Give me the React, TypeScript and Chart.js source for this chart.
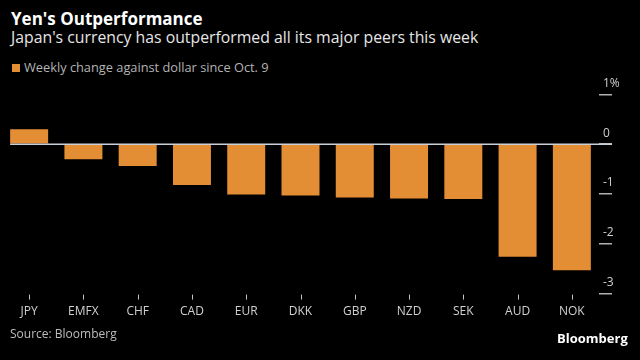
import React, { useEffect, useRef } from "react";
import { Chart, registerables } from "chart.js";

Chart.register(...registerables);

const categories = ["JPY", "EMFX", "CHF", "CAD", "EUR", "DKK", "GBP", "NZD", "SEK", "AUD", "NOK"];
const weeklyChange = [0.3, -0.3, -0.44, -0.82, -1.01, -1.03, -1.07, -1.09, -1.1, -2.26, -2.53];
const yTicks = [1, 0, -1, -2, -3];

const TITLE = "Yen's Outperformance";
const SUBTITLE = "Japan's currency has outperformed all its major peers this week";
const LEGEND = "Weekly change against dollar since Oct. 9";
const SOURCE = "Source: Bloomberg";
const ORANGE = "#E38D35";
const FONT = "'Open Sans', 'DejaVu Sans', sans-serif";

const axisMarks = {
  id: "axisMarks",
  afterDatasetsDraw(chart: any) {
    const ctx = chart.ctx;
    const xs = chart.scales.x;
    const area = chart.chartArea;
    ctx.save();
    // category tick marks
    ctx.strokeStyle = "#c4c4c4";
    ctx.lineWidth = 1;
    xs.ticks.forEach((_t: any, i: number) => {
      const px = Math.round(xs.getPixelForTick(i)) + 0.5;
      ctx.beginPath();
      ctx.moveTo(px, area.bottom + 1);
      ctx.lineTo(px, area.bottom + 6);
      ctx.stroke();
    });
    // zero line
    const meta = chart.getDatasetMeta(0);
    const first = meta.data[0] as any;
    if (first) {
      const left = first.x - first.width / 2;
      const y0 = chart.scales.y.getPixelForValue(0);
      ctx.strokeStyle = "#c9d0d8";
      ctx.lineWidth = 1.5;
      ctx.beginPath();
      ctx.moveTo(left, y0);
      ctx.lineTo(area.right + 13, y0);
      ctx.stroke();
    }
    ctx.restore();
  },
};

export default function App() {
  const ref = useRef<HTMLCanvasElement>(null);
  useEffect(() => {
    if (!ref.current) return;
    const chart = new Chart(ref.current, {
      type: "bar",
      data: {
        labels: categories,
        datasets: [
          {
            label: LEGEND,
            data: weeklyChange,
            backgroundColor: ORANGE,
            borderWidth: 0,
            categoryPercentage: 1,
            barPercentage: 0.7,
          },
        ],
      },
      options: {
        responsive: false,
        animation: false,
        events: [],
        layout: { padding: { left: 2, top: 94.4, right: 0, bottom: 36.4 } },
        plugins: { legend: { display: false }, tooltip: { enabled: false }, title: { display: false } },
        scales: {
          x: {
            grid: { display: false },
            border: { display: false },
            ticks: { color: "#d0d0d0", font: { family: FONT, size: 12 }, padding: 3, autoSkip: false, maxRotation: 0 },
            afterFit: (s: any) => { s.height = 30; },
          },
          y: {
            position: "right",
            min: -3,
            max: 1,
            afterBuildTicks: (s: any) => { s.ticks = yTicks.map((v) => ({ value: v })); },
            grid: { display: true, drawOnChartArea: false, drawTicks: true, tickLength: 13, color: "#b0b0b0", lineWidth: 1.5 },
            border: { display: false },
            ticks: {
              color: "#d0d0d0",
              font: { family: FONT, size: 12 },
              padding: -9,
              labelOffset: -11,
              callback: (v: any) => (v === 1 ? "1%" : String(v)),
            },
            afterFit: (s: any) => { s.width = 41; },
          },
        },
      },
      plugins: [axisMarks],
    });
    return () => chart.destroy();
  }, []);

  const text = (style: React.CSSProperties, content: React.ReactNode) => (
    <div style={{ position: "absolute", whiteSpace: "nowrap", lineHeight: 1, fontFamily: FONT, ...style }}>{content}</div>
  );

  return (
    <div style={{ position: "fixed", left: 0, top: 0, width: 640, height: 360, background: "#000", overflow: "hidden" }}>
      {text({ left: 11, top: 10, fontSize: 17, fontWeight: 700, color: "#fff" }, TITLE)}
      {text({ left: 11, top: 30.3, fontSize: 15.8, color: "#e6e6e6" }, SUBTITLE)}
      <div style={{ position: "absolute", left: 12, top: 64, width: 8, height: 8, background: ORANGE }} />
      {text({ left: 24, top: 61.3, fontSize: 12.8, color: "#b4b4b4" }, LEGEND)}
      <canvas ref={ref} width={640} height={360} style={{ position: "absolute", left: 0, top: 0, width: 640, height: 360 }} />
      {text({ left: 10, top: 328, fontSize: 12, color: "#bdbdbd" }, SOURCE)}
      {text({ left: 557, top: 332, fontSize: 13, fontWeight: 700, color: "#fff" }, "Bloomberg")}
    </div>
  );
}
